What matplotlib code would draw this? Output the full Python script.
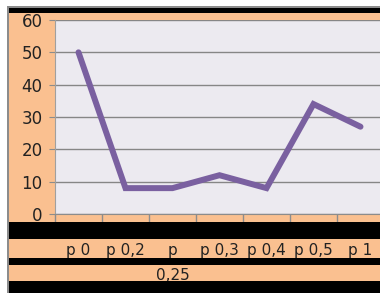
import matplotlib.pyplot as plt
from matplotlib.patches import Rectangle

categories = ["p 0", "p 0,2", "p\n0,25", "p 0,3", "p 0,4", "p 0,5", "p 1"]
values = [50, 8, 8, 12, 8, 34, 27]
yticks = [0, 10, 20, 30, 40, 50, 60]

W, H = 380, 293
orange = "#FAC090"

fig = plt.figure(figsize=(W / 100, H / 100), dpi=100)
fig.patch.set_facecolor("white")


def band(x0, y0, x1, y1, color, z):
    # pixel box (top-left origin) -> figure fraction rectangle
    r = Rectangle((x0 / W, 1 - y1 / H), (x1 - x0) / W, (y1 - y0) / H,
                  transform=fig.transFigure, facecolor=color,
                  edgecolor="none", zorder=z)
    fig.add_artist(r)


band(7, 6, W, H, "#8C8C8C", -3)      # grey frame edge
band(9, 8, W, H, orange, -2)         # orange chart area
band(9, 8, W, 13, "black", 5)        # black strip on top
band(9, 222, W, 239, "black", 5)
band(9, 258, W, 265, "black", 5)
band(9, 281, W, H, "black", 5)

ax = fig.add_axes([55 / W, (H - 214) / H, 329 / W, 194 / H])
ax.set_facecolor("#ECEAF0")

x = list(range(len(categories)))
ax.plot(x, values, color="#7A60A0", lw=4.3, solid_capstyle="round",
        solid_joinstyle="miter", zorder=3)

ax.set_xlim(-0.5, len(categories) - 0.5)
ax.set_ylim(0, 60)
ax.set_yticks(yticks)
ax.yaxis.grid(True, color="#868686", lw=1)
ax.set_axisbelow(True)

ax.set_xticks(x)
ax.set_xticklabels(categories, linespacing=1.85)
ax.set_xticks([i - 0.5 for i in range(len(categories) + 1)], minor=True)
ax.tick_params(axis="x", which="major", length=0, pad=21, labelsize=11,
               labelcolor="#222222")
ax.tick_params(axis="x", which="minor", length=6, color="#8C8C8C", width=1)
ax.tick_params(axis="y", length=4, color="#8C8C8C", pad=5, labelsize=12,
               labelcolor="#222222")

for s in ["top", "right"]:
    ax.spines[s].set_visible(False)
ax.spines["left"].set_color("#A0A0A0")
ax.spines["bottom"].set_color("#8C8C8C")

fig.savefig("out.png", dpi=100)
